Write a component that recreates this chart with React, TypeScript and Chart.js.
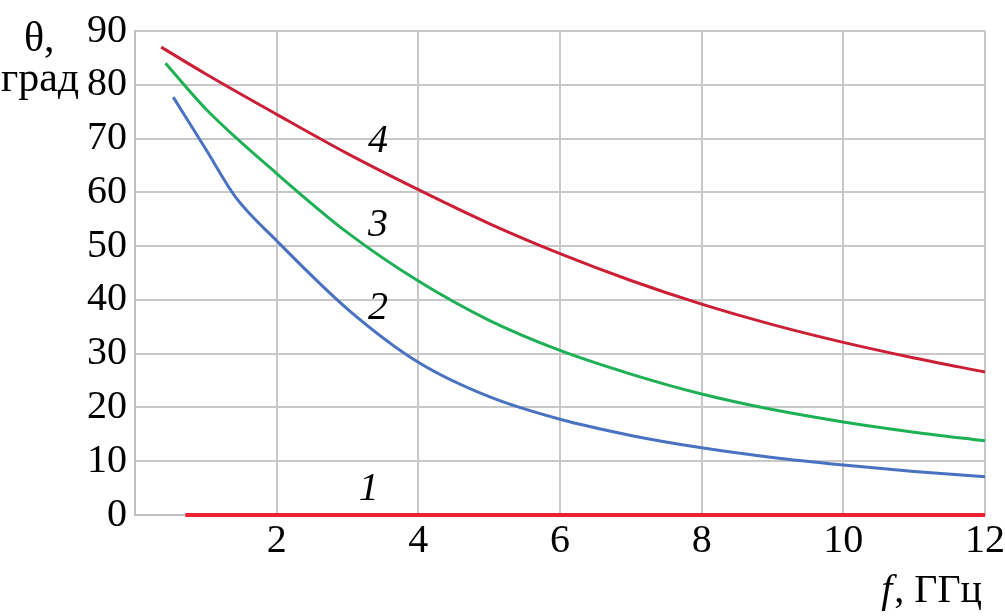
import React, { useEffect, useRef } from "react";
import { Chart, registerables } from "chart.js";

Chart.register(...registerables);

// Curve 1 (θ = 0)
const freq1 = [0.71, 12];
const theta1 = [0, 0];
// Curve 2 (blue)
const freq2 = [0.54, 1, 1.42, 2, 3, 4, 5, 6, 7, 8, 9, 10, 11, 12];
const theta2 = [77.7, 68, 59.1, 51.0, 38.3, 28.4, 22.0, 17.8, 14.8, 12.5, 10.7, 9.3, 8.1, 7.1];
// Curve 3 (green)
const freq3 = [0.43, 1, 2, 3, 4, 5, 6, 7, 8, 9, 10, 11, 12];
const theta3 = [84.0, 75.5, 63.5, 52.5, 43.5, 36.2, 30.6, 26.2, 22.5, 19.6, 17.3, 15.4, 13.8];
// Curve 4 (red)
const freq4 = [0.37, 1, 2, 3, 4, 5, 6, 7, 8, 9, 10, 11, 12];
const theta4 = [87.0, 82.0, 74.5, 67.2, 60.5, 54.2, 48.6, 43.6, 39.2, 35.4, 32.1, 29.2, 26.6];

const curveNames = ["1", "2", "3", "4"];
const curveLabelX = [3.3, 3.43, 3.43, 3.43];
const curveLabelY = [4.8, 38.4, 53.8, 69.5];

const xTicks = [2, 4, 6, 8, 10, 12];
const yTitle = ["θ,", "град"];
const xTitleItalic = "f";
const xTitleRest = ", ГГц";

const FONT = "'Liberation Serif', 'Times New Roman', serif";

const pts = (xs: number[], ys: number[]) => xs.map((x, i) => ({ x, y: ys[i] }));

export default function App() {
  const ref = useRef<HTMLCanvasElement | null>(null);
  useEffect(() => {
    if (!ref.current) return;
    const textPlugin = {
      id: "texts",
      afterDatasetsDraw(chart: any) {
        const ctx = chart.ctx;
        const xs = chart.scales.x;
        const ys = chart.scales.y;
        ctx.save();
        ctx.fillStyle = "#000";
        ctx.textAlign = "center";
        ctx.textBaseline = "middle";
        ctx.font = `italic 40px ${FONT}`;
        curveNames.forEach((n, i) => {
          ctx.fillText(n, xs.getPixelForValue(curveLabelX[i]), ys.getPixelForValue(curveLabelY[i]));
        });
        // y title
        ctx.textAlign = "left";
        ctx.textBaseline = "alphabetic";
        ctx.font = `42px ${FONT}`;
        ctx.fillText(yTitle[0], 24, 51);
        ctx.fillText(yTitle[1], 1, 91);
        // x title
        ctx.font = `italic 40px ${FONT}`;
        const wf = ctx.measureText(xTitleItalic).width;
        ctx.font = `40px ${FONT}`;
        const wr = ctx.measureText(xTitleRest).width;
        const right = 982;
        const start = right - wr - wf - 2;
        ctx.font = `italic 40px ${FONT}`;
        ctx.fillText(xTitleItalic, start, 602);
        ctx.font = `40px ${FONT}`;
        ctx.fillText(xTitleRest, start + wf + 2, 602);
        ctx.restore();
      },
    };
    const chart = new Chart(ref.current, {
      type: "line",
      data: {
        datasets: [
          { label: "1", data: pts(freq1, theta1), borderColor: "#ee2233", borderWidth: 4 },
          { label: "2", data: pts(freq2, theta2), borderColor: "#4a72c2", borderWidth: 3 },
          { label: "3", data: pts(freq3, theta3), borderColor: "#1db054", borderWidth: 3 },
          { label: "4", data: pts(freq4, theta4), borderColor: "#cc1f36", borderWidth: 3 },
        ].map((d) => ({
          ...d,
          pointRadius: 0,
          fill: false,
          cubicInterpolationMode: "monotone" as const,
          clip: false as any,
        })),
      },
      options: {
        animation: false,
        responsive: true,
        maintainAspectRatio: false,
        layout: { padding: { left: 0, right: 20, top: 31, bottom: 0 } },
        plugins: { legend: { display: false }, tooltip: { enabled: false } },
        scales: {
          x: {
            type: "linear",
            min: 0,
            max: 12,
            afterFit: (s: any) => {
              s.height = 101;
              s.paddingLeft = 0;
              s.paddingRight = 0;
            },
            afterBuildTicks: (s: any) => {
              s.ticks = [0, ...xTicks].map((v) => ({ value: v }));
            },
            ticks: {
              color: "#000",
              font: { family: FONT, size: 40 },
              padding: 2,
              maxRotation: 0,
              autoSkip: false,
              callback: (v: any) => (xTicks.includes(Number(v)) ? String(v) : ""),
            },
            grid: { color: "#c8c8c8", lineWidth: 2, drawTicks: false },
            border: { display: true, color: "#c0c0c0", width: 2 },
          },
          y: {
            type: "linear",
            min: 0,
            max: 90,
            afterFit: (s: any) => {
              s.width = 135;
              s.paddingTop = 0;
              s.paddingBottom = 0;
            },
            ticks: {
              stepSize: 10,
              color: "#000",
              font: { family: FONT, size: 40 },
              padding: 8,
            },
            grid: { color: "#c8c8c8", lineWidth: 2, drawTicks: false },
            border: { display: true, color: "#c0c0c0", width: 2 },
          },
        },
      },
      plugins: [textPlugin],
    });
    return () => chart.destroy();
  }, []);
  return (
    <div style={{ position: "fixed", left: 0, top: 0, width: 1005, height: 616, background: "#fff" }}>
      <canvas ref={ref} />
    </div>
  );
}
